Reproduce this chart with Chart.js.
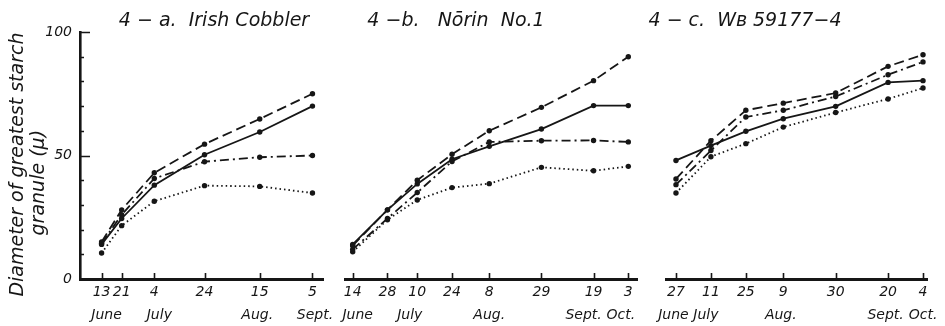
<!DOCTYPE html>
<html>
<head>
<meta charset="utf-8">
<script src="https://cdn.jsdelivr.net/npm/chart.js@4.4.1/dist/chart.umd.min.js"></script>
<style>
  html, body { margin: 0; padding: 0; background: #fff; }
  body { position: relative; width: 945px; height: 326px; overflow: hidden; }
  canvas { position: absolute; top: 0; }
</style>
</head>
<body>
<canvas id="panelA" width="428" height="326" style="left:0px"></canvas>
<canvas id="panelB" width="380" height="326" style="left:275px"></canvas>
<canvas id="panelC" width="400" height="326" style="left:545px"></canvas>
<script>
// 4-a. Irish Cobbler
var datesA = ['06-13', '06-21', '07-04', '07-24', '08-15', '09-05'];
var dayLabelsA = ['13', '21', '4', '24', '15', '5'];
var monthsA = ['June', 'July', 'Aug.', 'Sept.'];
var monthAtA = ['06-15', '07-06', '08-14', '09-06'];
var dashedA = [15, 28, 43, 54.6, 64.8, 75];
var solidA = [14, 24.5, 38, 50.3, 59.5, 70];
var dashDotA = [14.5, 26, 40.7, 47.5, 49.3, 50];
var dottedA = [10.5, 21.6, 31.5, 37.8, 37.5, 34.8];

// 4-b. Norin No.1
var datesB = ['06-14', '06-28', '07-10', '07-24', '08-08', '08-29', '09-19', '10-03'];
var dayLabelsB = ['14', '28', '10', '24', '8', '29', '19', '3'];
var monthsB = ['June', 'July', 'Aug.', 'Sept.', 'Oct.'];
var monthAtB = ['06-16', '07-07', '08-08', '09-15', '09-30'];
var dashedB = [13.5, 28, 40, 50.5, 60, 69.5, 80.3, 90];
var solidB = [14, 28, 38.5, 48.5, 53.7, 60.7, 70.2, 70.2];
var dashDotB = [12, 24.5, 35, 47.6, 55.5, 56, 56.1, 55.5];
var dottedB = [11, 24, 32, 37, 38.6, 45.2, 43.8, 45.6];

// 4-c. WB 59177-4
var datesC = ['06-27', '07-11', '07-25', '08-09', '08-30', '09-20', '10-04'];
var dayLabelsC = ['27', '11', '25', '9', '30', '20', '4'];
var monthsC = ['June', 'July', 'Aug.', 'Sept.', 'Oct.'];
var monthAtC = ['06-26', '07-09', '08-08', '09-19', '10-04'];
var dashedC = [40.5, 56, 68.3, 71.2, 75.3, 86.1, 90.8];
var solidC = [48, 54, 59.8, 64.9, 69.9, 79.6, 80.3];
var dashDotC = [38.2, 52, 65.6, 68.3, 73.9, 82.7, 87.9];
var dottedC = [34.8, 49.5, 54.8, 61.5, 67.4, 72.9, 77.3];

var yTicks = [0, 10, 20, 30, 40, 50, 60, 70, 80, 90, 100];

var INK = '#161616';
var monthStart = { 6: 151, 7: 181, 8: 212, 9: 243, 10: 273 };

function doy(md) {
    var p = md.split('-');
    return monthStart[+p[0]] + (+p[1]);
}

Chart.defaults.font.family = '"DejaVu Sans", sans-serif';
Chart.defaults.font.style = 'italic';
Chart.defaults.color = INK;

// short tick marks pointing into the plot, as on the drawn axes
var inwardTicks = {
    id: 'inwardTicks',
    afterDraw: function (chart) {
        var ctx = chart.ctx, area = chart.chartArea, x = chart.scales.x, y = chart.scales.y;
        ctx.save();
        ctx.strokeStyle = INK;
        ctx.lineWidth = 1.6;
        ctx.beginPath();
        x.ticks.forEach(function (t) {
            var px = Math.round(x.getPixelForValue(t.value)) + 0.5;
            ctx.moveTo(px, area.bottom);
            ctx.lineTo(px, area.bottom - 6);
        });
        if (y.options.border.display) {
            y.ticks.forEach(function (t) {
                var py = Math.round(y.getPixelForValue(t.value)) + 0.5;
                ctx.moveTo(area.left, py);
                ctx.lineTo(area.left + (t.value % 50 === 0 ? 10 : 4), py);
            });
        }
        ctx.stroke();
        ctx.restore();
    }
};

var lineStyles = [[10, 5], [], [9, 4, 2, 4], [1.5, 3]];

function series(dates, values, dash) {
    return {
        data: values.map(function (v, i) { return { x: doy(dates[i]), y: v }; }),
        xAxisID: 'x',
        yAxisID: 'y',
        borderColor: INK,
        backgroundColor: INK,
        borderWidth: 1.8,
        borderDash: dash,
        pointRadius: 2.7,
        pointBorderWidth: 0,
        pointBackgroundColor: INK,
        tension: 0,
        clip: false
    };
}

function fixHeight(h) {
    return function (scale) {
        scale.height = h;
        scale.paddingLeft = 0;
        scale.paddingRight = 0;
    };
}

function fixWidth(w) {
    return function (scale) {
        scale.width = w;
        scale.paddingTop = 0;
        scale.paddingBottom = 0;
    };
}

function panel(id, p) {
    return new Chart(document.getElementById(id), {
        type: 'line',
        data: {
            datasets: [
                series(p.dates, p.dashed, lineStyles[0]),
                series(p.dates, p.solid, lineStyles[1]),
                series(p.dates, p.dashDot, lineStyles[2]),
                series(p.dates, p.dotted, lineStyles[3])
            ]
        },
        options: {
            responsive: false,
            animation: false,
            layout: { padding: { left: p.padLeft, right: p.padRight, top: 0, bottom: 0 } },
            plugins: {
                legend: { display: false },
                tooltip: { enabled: false },
                title: {
                    display: true,
                    text: p.title,
                    color: INK,
                    font: { size: 19, style: 'italic', weight: 'normal', lineHeight: '22px' },
                    padding: { top: 10, bottom: 0 }
                }
            },
            scales: {
                x: {
                    type: 'linear',
                    axis: 'x',
                    position: 'bottom',
                    weight: 0,
                    min: p.xMin,
                    max: p.xMax,
                    afterBuildTicks: function (scale) {
                        scale.ticks = p.dates.map(function (d) { return { value: doy(d) }; });
                    },
                    afterFit: fixHeight(22),
                    grid: { display: false, drawTicks: false },
                    border: { display: true, width: 3, color: INK },
                    ticks: {
                        autoSkip: false,
                        maxRotation: 0,
                        padding: 5,
                        font: { size: 14 },
                        callback: function (v, i) { return p.dayLabels[i]; }
                    }
                },
                m: {
                    type: 'linear',
                    axis: 'x',
                    position: 'bottom',
                    weight: 1,
                    min: p.xMin,
                    max: p.xMax,
                    afterBuildTicks: function (scale) {
                        scale.ticks = p.monthAt.map(function (d) { return { value: doy(d) }; });
                    },
                    afterFit: fixHeight(25),
                    grid: { display: false, drawTicks: false },
                    border: { display: false },
                    ticks: {
                        autoSkip: false,
                        maxRotation: 0,
                        padding: 6,
                        font: { size: 14 },
                        callback: function (v, i) { return p.months[i]; }
                    }
                },
                y: {
                    type: 'linear',
                    axis: 'y',
                    position: 'left',
                    min: 0,
                    max: 100,
                    afterBuildTicks: function (scale) {
                        scale.ticks = yTicks.map(function (v) { return { value: v }; });
                    },
                    afterFit: fixWidth(p.leftW),
                    grid: { display: false, drawTicks: false },
                    border: { display: p.showY, width: 2.6, color: INK },
                    ticks: {
                        display: p.showY,
                        autoSkip: false,
                        padding: 8,
                        font: { size: 14 },
                        callback: function (v) { return v % 50 === 0 ? String(v) : ''; }
                    },
                    title: {
                        display: p.showY,
                        // trailing spaces nudge each line toward the bottom of the axis
                        text: ['Diameter of greatest starch   ', 'granule (\u03bc)         '],
                        color: INK,
                        font: { size: 19, style: 'italic', lineHeight: '21px' },
                        padding: { top: 8, bottom: 0 }
                    }
                },
                // empty strip on the right that only widens the title box
                pad: {
                    type: 'linear',
                    axis: 'y',
                    position: 'right',
                    afterFit: fixWidth(p.rightW),
                    grid: { display: false, drawTicks: false },
                    border: { display: false },
                    ticks: { display: false }
                }
            }
        },
        plugins: [inwardTicks]
    });
}

panel('panelA', {
    title: '4 \u2212 a.  Irish Cobbler',
    dates: datesA, dayLabels: dayLabelsA, months: monthsA, monthAt: monthAtA,
    dashed: dashedA, solid: solidA, dashDot: dashDotA, dotted: dottedA,
    xMin: 155.4, xMax: 252.2, padLeft: 0, padRight: 0, leftW: 80, rightW: 105, showY: true
});

panel('panelB', {
    title: '4 \u2212b.   N\u014drin  No.1',
    dates: datesB, dayLabels: dayLabelsB, months: monthsB, monthAt: monthAtB,
    dashed: dashedB, solid: solidB, dashDot: dashDotB, dotted: dottedB,
    xMin: 161.9, xMax: 279.5, padLeft: 0, padRight: 18, leftW: 70, rightW: 0, showY: false
});

panel('panelC', {
    title: '4 \u2212 c.  W\u0299 59177\u22124',
    dates: datesC, dayLabels: dayLabelsC, months: monthsC, monthAt: monthAtC,
    dashed: dashedC, solid: solidC, dashDot: dashDotC, dotted: dottedC,
    xMin: 174, xMax: 278.6, padLeft: 18, padRight: 18, leftW: 103, rightW: 0, showY: false
});
</script>
</body>
</html>
